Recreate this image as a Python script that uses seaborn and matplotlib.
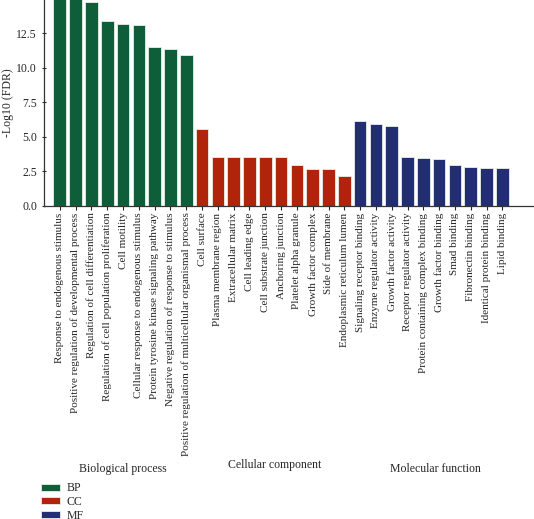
import pandas as pd
import numpy as np
import seaborn as sns
import matplotlib.pyplot as plt

bp_terms = ['Response to endogenous stimulus', 'Positive regulation of developmental process',
            'Regulation of cell differentiation', 'Regulation of cell population proliferation',
            'Cell motility', 'Cellular response to endogenous stimulus',
            'Protein tyrosine kinase signaling pathway', 'Negative regulation of response to stimulus',
            'Positive regulation of multicellular organismal process']
bp_vals = [15.2, 15.0, 14.77, 13.4, 13.18, 13.15, 11.54, 11.37, 10.91]

cc_terms = ['Cell surface', 'Plasma membrane region', 'Extracellular matrix', 'Cell leading edge',
            'Cell substrate junction', 'Anchoring junction', 'Platelet alpha granule',
            'Growth factor complex', 'Side of membrane', 'Endoplasmic reticulum lumen']
cc_vals = [5.54, 3.5, 3.5, 3.5, 3.5, 3.5, 2.94, 2.63, 2.63, 2.17]

mf_terms = ['Signaling receptor binding', 'Enzyme regulator activity', 'Growth factor activity',
            'Receptor regulator activity', 'Protein containing complex binding', 'Growth factor binding',
            'Smad binding', 'Fibronectin binding', 'Identical protein binding', 'Lipid binding']
mf_vals = [6.12, 5.9, 5.81, 3.54, 3.47, 3.42, 2.96, 2.82, 2.72, 2.72]

groups = ['BP', 'CC', 'MF']
group_names = ['Biological process', 'Cellular component', 'Molecular function']
colors = ['#0e5e3a', '#b0240c', '#232e72']

df = pd.DataFrame({
    'term': bp_terms + cc_terms + mf_terms,
    'value': bp_vals + cc_vals + mf_vals,
    'group': ['BP'] * len(bp_terms) + ['CC'] * len(cc_terms) + ['MF'] * len(mf_terms),
})

sns.set_style('white')
plt.rcParams['font.family'] = ['Liberation Serif', 'DejaVu Serif']

fig = plt.figure(figsize=(5.34, 5.19), dpi=100)
ax = fig.add_axes([0.0824, 0.6037, 0.9176, 0.3963])

sns.barplot(data=df, x='term', y='value', hue='group', palette=colors, saturation=1,
            dodge=False, width=0.8, edgecolor='#e8eee8', linewidth=0.6, ax=ax)

ax.set_xlim(-1.0, 30.0)
ax.set_ylim(0, 14.93)
ax.set_yticks([0, 2.5, 5, 7.5, 10, 12.5])
ax.set_yticklabels(['0.0', '2.5', '5.0', '7.5', '10.0', '12.5'])
ax.set_xlabel('')
ax.set_ylabel('-Log10 (FDR)', fontsize=8.5)
ax.yaxis.set_label_coords(-0.061, 0.5)
ax.tick_params(axis='x', labelrotation=90, labelsize=8, length=3, width=0.8, bottom=True, pad=2)
ax.tick_params(axis='y', labelsize=8.5, length=3, width=0.8, left=True, direction='inout')
for s in ['top', 'right']:
    ax.spines[s].set_visible(False)
for s in ['left', 'bottom']:
    ax.spines[s].set_color('#333333')
    ax.spines[s].set_linewidth(0.9)

# group captions under the labels
fig.text(123 / 534, 1 - 469 / 519, group_names[0], ha='center', va='center', fontsize=8.5)
fig.text(275 / 534, 1 - 465 / 519, group_names[1], ha='center', va='center', fontsize=8.5)
fig.text(435 / 534, 1 - 469 / 519, group_names[2], ha='center', va='center', fontsize=8.5)

handles, labels = ax.get_legend_handles_labels()
ax.get_legend().remove()
fig.legend(handles, labels, loc='upper left', bbox_to_anchor=(0.062, 1 - 474 / 519), frameon=False,
           fontsize=8.5, handlelength=1.6, handleheight=0.55, labelspacing=0.15, handletextpad=0.55,
           borderpad=0.2)

plt.savefig('out.png', dpi=100)
